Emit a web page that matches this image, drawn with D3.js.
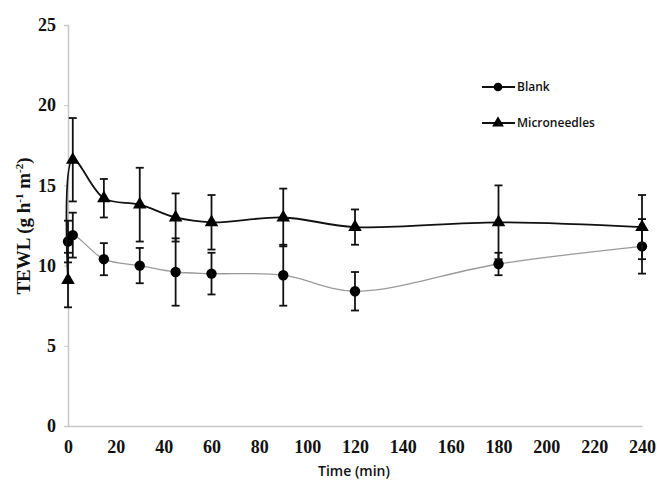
<!DOCTYPE html>
<html>
<head>
<meta charset="utf-8">
<script src="https://cdn.jsdelivr.net/npm/d3@7"></script>
<style>
  body { margin: 0; background: #fff; }
  svg { display: block; }
</style>
</head>
<body>
<div class="chart"></div>
<script>
// TEWL over time, blank vs microneedles
const times = [0, 2, 15, 30, 45, 60, 90, 120, 180, 240];
const blankMean = [11.5, 11.9, 10.4, 10.0, 9.6, 9.5, 9.4, 8.4, 10.1, 11.2];
const blankErr  = [1.3, 1.4, 1.0, 1.1, 2.1, 1.3, 1.9, 1.2, 0.7, 1.7];
const microMean = [9.1, 16.6, 14.2, 13.8, 13.0, 12.7, 13.0, 12.4, 12.7, 12.4];
const microErr  = [1.7, 2.6, 1.2, 2.3, 1.5, 1.7, 1.8, 1.1, 2.3, 2.0];
const yTicks = [0, 5, 10, 15, 20, 25];
const xTicks = [0, 20, 40, 60, 80, 100, 120, 140, 160, 180, 200, 220, 240];

const width = 657, height = 484;
const margin = {top: 25, right: 15, bottom: 58, left: 68};

const svg = d3.select('.chart')
              .append('svg')
              .attr('width', width)
              .attr('height', height);

const x = d3.scaleLinear().domain([0, 240]).range([margin.left, width - margin.right]);
const y = d3.scaleLinear().domain([0, 25]).range([height - margin.bottom, margin.top]);

// axes
const yAxis = svg.append('g')
  .attr('transform', 'translate(' + margin.left + ',0)')
  .call(d3.axisLeft(y).tickValues(yTicks).tickSize(4).tickPadding(8));
const xAxis = svg.append('g')
  .attr('transform', 'translate(0,' + y(0) + ')')
  .call(d3.axisBottom(x).tickValues(xTicks).tickSize(0).tickPadding(14));

[yAxis, xAxis].forEach(function(a) {
  a.select('.domain').attr('stroke', '#c8c8c8').attr('stroke-width', 1.5);
  a.selectAll('.tick line').attr('stroke', '#c8c8c8');
  a.selectAll('.tick text')
    .attr('fill', '#111')
    .style('font-family', '"Liberation Serif", "DejaVu Serif", serif')
    .style('font-size', '18px')
    .style('font-weight', 'bold');
});

// axis titles
svg.append('text')
  .attr('transform', 'translate(30,' + 226 + ') rotate(-90)')
  .attr('text-anchor', 'middle')
  .style('font-family', '"Liberation Serif", serif')
  .style('font-size', '19px')
  .style('font-weight', 'bold')
  .attr('fill', '#111')
  .html('TEWL (g h<tspan dy="-7" font-size="11">-1</tspan><tspan dy="7"> m</tspan><tspan dy="-7" font-size="11">-2</tspan><tspan dy="7">)</tspan>');

svg.append('text')
  .attr('x', 354).attr('y', 476)
  .attr('text-anchor', 'middle')
  .style('font-family', '"Open Sans", sans-serif')
  .style('font-size', '14px')
  .style('font-weight', '600')
  .attr('fill', '#111')
  .text('Time (min)');

function drawSeries(means, errs, lineColor, lineWidth, marker) {
  const pts = times.map(function(t, i) { return {t: t, m: means[i], e: errs[i]}; });
  const g = svg.append('g');

  g.append('path')
    .datum(pts)
    .attr('fill', 'none')
    .attr('stroke', lineColor)
    .attr('stroke-width', lineWidth)
    .attr('d', d3.line().x(function(d) { return x(d.t); }).y(function(d) { return y(d.m); })
                 .curve(d3.curveCatmullRom.alpha(0.5)));

  // error bars
  const eb = g.selectAll('.err').data(pts).enter().append('g');
  eb.append('line')
    .attr('x1', function(d) { return x(d.t); }).attr('x2', function(d) { return x(d.t); })
    .attr('y1', function(d) { return y(d.m - d.e); }).attr('y2', function(d) { return y(d.m + d.e); })
    .attr('stroke', '#111').attr('stroke-width', 1.8);
  [-1, 1].forEach(function(s) {
    eb.append('line')
      .attr('x1', function(d) { return x(d.t) - 4; }).attr('x2', function(d) { return x(d.t) + 4; })
      .attr('y1', function(d) { return y(d.m + s * d.e); }).attr('y2', function(d) { return y(d.m + s * d.e); })
      .attr('stroke', '#111').attr('stroke-width', 1.8);
  });

  g.selectAll('.mk').data(pts).enter().append('path')
    .attr('transform', function(d) { return 'translate(' + x(d.t) + ',' + y(d.m) + ')'; })
    .attr('d', d3.symbol().type(marker).size(marker === d3.symbolCircle ? 85 : 80))
    .attr('fill', '#000');
}

drawSeries(blankMean, blankErr, '#9a9a9a', 1.3, d3.symbolCircle);
drawSeries(microMean, microErr, '#111', 1.8, d3.symbolTriangle);

// legend
const legend = [
  {name: 'Blank', marker: d3.symbolCircle, y: 87},
  {name: 'Microneedles', marker: d3.symbolTriangle, y: 123}
];
const lg = svg.selectAll('.lg').data(legend).enter().append('g')
  .attr('transform', function(d) { return 'translate(482,' + d.y + ')'; });
lg.append('line').attr('x1', 0).attr('x2', 33).attr('stroke', '#111').attr('stroke-width', 2);
lg.append('path').attr('transform', 'translate(16,0)')
  .attr('d', function(d) { return d3.symbol().type(d.marker).size(60)(); })
  .attr('fill', '#000');
lg.append('text').attr('x', 35).attr('y', 4)
  .style('font-family', '"Open Sans", sans-serif')
  .style('font-size', '12px')
  .style('font-weight', '600')
  .attr('fill', '#111')
  .text(function(d) { return d.name; });
</script>
</body>
</html>
